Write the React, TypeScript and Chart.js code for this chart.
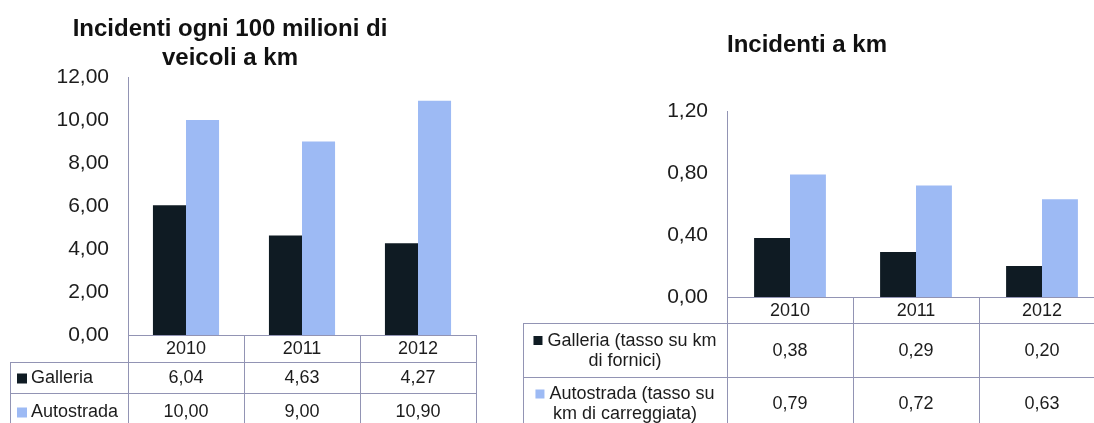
import React, { useEffect, useRef } from 'react';
import { Chart, registerables } from 'chart.js';

Chart.register(...registerables);

// ---------- data ----------
const years = ['2010', '2011', '2012'];
const galleriaPer100M = [6.04, 4.63, 4.27];
const autostradaPer100M = [10.0, 9.0, 10.9];
const galleriaPerKm = [0.38, 0.29, 0.2];
const autostradaPerKm = [0.79, 0.72, 0.63];
const leftTitle = ['Incidenti ogni 100 milioni di', 'veicoli a km'];
const rightTitle = ['Incidenti a km'];
const leftSeriesLabels = [['Galleria'], ['Autostrada']];
const rightSeriesLabels = [
  ['Galleria (tasso su km', 'di fornici)'],
  ['Autostrada (tasso su', 'km di carreggiata)'],
];

// ---------- styles ----------
const FONT = '"Liberation Sans", Arial, Helvetica, sans-serif';
const DARK = '#0f1b23';
const LIGHT = '#9dbaf4';
const GRID = '#9294b4';
const TEXT = '#1c1c1c';

const fmt = (v: number) => Number(v).toFixed(2).replace('.', ',');

type TableCfg = {
  title: string[];
  titleX: number;
  titleY: number;
  titleLH: number;
  legendLeft: number;
  rowBounds: number[]; // [rowTop0, rowTop1, ..., bottom]
  labels: string[][];
  values: number[][];
  colors: string[];
  legendMode: 'left' | 'center';
  lineH: number;
};

function tablePlugin(cfg: TableCfg) {
  return {
    id: 'tablePlugin',
    afterDraw(chart: any) {
      const ctx = chart.ctx as CanvasRenderingContext2D;
      const ca = chart.chartArea;
      const xs = chart.scales.x;
      const n = years.length;
      const cw = (ca.right - ca.left) / n;
      const bottom = cfg.rowBounds[cfg.rowBounds.length - 1];
      ctx.save();
      // title
      ctx.fillStyle = '#111';
      ctx.font = `bold 24px ${FONT}`;
      ctx.textAlign = 'center';
      ctx.textBaseline = 'middle';
      cfg.title.forEach((t, i) => ctx.fillText(t, cfg.titleX, cfg.titleY + i * cfg.titleLH));

      // lines
      ctx.strokeStyle = GRID;
      ctx.lineWidth = 1;
      const h = (y: number, x0: number, x1: number) => {
        ctx.beginPath();
        ctx.moveTo(x0, Math.round(y) + 0.5);
        ctx.lineTo(x1, Math.round(y) + 0.5);
        ctx.stroke();
      };
      const v = (x: number, y0: number, y1: number) => {
        ctx.beginPath();
        ctx.moveTo(Math.round(x) + 0.5, y0);
        ctx.lineTo(Math.round(x) + 0.5, y1);
        ctx.stroke();
      };
      h(ca.bottom, ca.left, ca.right);
      for (let r = 0; r < cfg.rowBounds.length - 1; r++) {
        h(cfg.rowBounds[r], cfg.legendLeft, ca.right);
      }
      for (let i = 0; i <= n; i++) v(ca.left + i * cw, ca.bottom, bottom);
      v(cfg.legendLeft, cfg.rowBounds[0], bottom);

      // header years
      ctx.fillStyle = TEXT;
      ctx.font = `18px ${FONT}`;
      ctx.textAlign = 'center';
      ctx.textBaseline = 'middle';
      const headY = (ca.bottom + cfg.rowBounds[0]) / 2 + 1;
      years.forEach((yr, i) => ctx.fillText(yr, xs.getPixelForValue(i), headY));

      // rows
      for (let r = 0; r < cfg.values.length; r++) {
        const top = cfg.rowBounds[r];
        const bot = cfg.rowBounds[r + 1];
        const cy = (top + bot) / 2 + 1;
        ctx.textAlign = 'center';
        ctx.fillStyle = TEXT;
        cfg.values[r].forEach((val, i) => ctx.fillText(fmt(val), xs.getPixelForValue(i), cy));
        // legend cell
        const lines = cfg.labels[r];
        const marker = 10;
        const gap = 4;
        const firstY = cy - ((lines.length - 1) * cfg.lineH) / 2;
        if (cfg.legendMode === 'left') {
          const mx = cfg.legendLeft + 7;
          ctx.fillStyle = cfg.colors[r];
          ctx.fillRect(mx, firstY - marker / 2, marker, marker);
          ctx.fillStyle = TEXT;
          ctx.textAlign = 'left';
          lines.forEach((ln, k) => ctx.fillText(ln, mx + marker + gap, firstY + k * cfg.lineH));
        } else {
          const cellC = (cfg.legendLeft + ca.left) / 2;
          lines.forEach((ln, k) => {
            const y = firstY + k * cfg.lineH;
            const tw = ctx.measureText(ln).width;
            if (k === 0) {
              const total = marker + gap + tw;
              const x0 = cellC - total / 2;
              ctx.fillStyle = cfg.colors[r];
              ctx.fillRect(x0, y - marker / 2, marker - 1, marker - 1);
              ctx.fillStyle = TEXT;
              ctx.textAlign = 'left';
              ctx.fillText(ln, x0 + marker + gap, y);
            } else {
              ctx.fillStyle = TEXT;
              ctx.textAlign = 'center';
              ctx.fillText(ln, cellC, y);
            }
          });
        }
      }
      ctx.restore();
    },
  };
}

function makeConfig(
  a: number[],
  b: number[],
  max: number,
  step: number,
  axisWidth: number,
  padding: any,
  plugin: any
): any {
  return {
    type: 'bar',
    data: {
      labels: years,
      datasets: [
        { label: 'Galleria', data: a, backgroundColor: DARK, borderWidth: 0 },
        { label: 'Autostrada', data: b, backgroundColor: LIGHT, borderWidth: 0 },
      ],
    },
    options: {
      responsive: false,
      animation: false,
      devicePixelRatio: 1,
      layout: { padding, autoPadding: false },
      datasets: { bar: { categoryPercentage: 0.57, barPercentage: 1 } },
      plugins: { legend: { display: false }, tooltip: { enabled: false }, title: { display: false } },
      scales: {
        x: { display: false, offset: true },
        y: {
          min: 0,
          max,
          grid: { display: false, drawTicks: false },
          border: { display: true, color: GRID, width: 1 },
          ticks: {
            stepSize: step,
            padding: 19,
            color: TEXT,
            font: { family: FONT, size: 21 },
            callback: (val: any) => fmt(Number(val)),
          },
          afterFit: (s: any) => {
            s.width = axisWidth;
          },
        },
      },
    },
    plugins: [plugin],
  };
}

export default function App() {
  const leftRef = useRef<HTMLCanvasElement>(null);
  const rightRef = useRef<HTMLCanvasElement>(null);

  useEffect(() => {
    const left = new Chart(
      leftRef.current as HTMLCanvasElement,
      makeConfig(
        galleriaPer100M,
        autostradaPer100M,
        12,
        2,
        128,
        { top: 77, bottom: 88, left: 0, right: 14 },
        tablePlugin({
          title: leftTitle,
          titleX: 230,
          titleY: 29,
          titleLH: 29,
          legendLeft: 10,
          rowBounds: [362, 393, 430],
          labels: leftSeriesLabels,
          values: [galleriaPer100M, autostradaPer100M],
          colors: [DARK, LIGHT],
          legendMode: 'left',
          lineH: 20,
        })
      )
    );
    const right = new Chart(
      rightRef.current as HTMLCanvasElement,
      makeConfig(
        galleriaPerKm,
        autostradaPerKm,
        1.2,
        0.4,
        237,
        { top: 111, bottom: 126, left: 0, right: 5 },
        tablePlugin({
          title: rightTitle,
          titleX: 317,
          titleY: 45,
          titleLH: 29,
          legendLeft: 33,
          rowBounds: [323, 377, 430],
          labels: rightSeriesLabels,
          values: [galleriaPerKm, autostradaPerKm],
          colors: [DARK, LIGHT],
          legendMode: 'center',
          lineH: 20,
        })
      )
    );
    return () => {
      left.destroy();
      right.destroy();
    };
  }, []);

  return (
    <div
      style={{
        position: 'fixed',
        left: 0,
        top: 0,
        width: 1094,
        height: 423,
        overflow: 'hidden',
        background: '#fff',
      }}
    >
      <canvas ref={leftRef} width={490} height={423} style={{ position: 'absolute', left: 0, top: 0 }} />
      <canvas ref={rightRef} width={620} height={423} style={{ position: 'absolute', left: 490, top: 0 }} />
    </div>
  );
}
